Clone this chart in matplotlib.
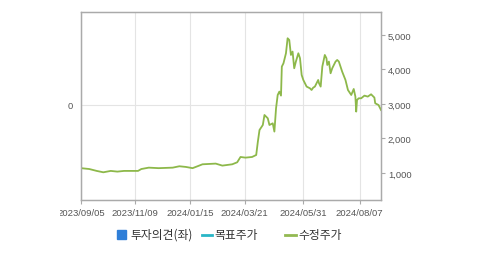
import matplotlib
matplotlib.use("Agg")
import matplotlib.pyplot as plt
import pandas as pd
from matplotlib.lines import Line2D
from matplotlib.patches import Rectangle
from matplotlib.transforms import Bbox, TransformedBbox

plt.rcParams['font.family'] = ['Noto Sans CJK KR', 'DejaVu Sans']

# adjusted price (수정주가)
dates = ["2023-09-05", "2023-09-15", "2023-09-24", "2023-10-02", "2023-10-11", "2023-10-19",
         "2023-10-27", "2023-11-13", "2023-11-17", "2023-11-26", "2023-12-08", "2023-12-25",
         "2024-01-02", "2024-01-10", "2024-01-18", "2024-01-26", "2024-01-30", "2024-02-15",
         "2024-02-23", "2024-03-06", "2024-03-12", "2024-03-16", "2024-03-22", "2024-03-30",
         "2024-04-04", "2024-04-06", "2024-04-08", "2024-04-12", "2024-04-14", "2024-04-18",
         "2024-04-20", "2024-04-24", "2024-04-26", "2024-04-28", "2024-04-30", "2024-05-02",
         "2024-05-04", "2024-05-05", "2024-05-07", "2024-05-10", "2024-05-12", "2024-05-14",
         "2024-05-16", "2024-05-18", "2024-05-20", "2024-05-22", "2024-05-25", "2024-05-27",
         "2024-05-29", "2024-05-31", "2024-06-04", "2024-06-08", "2024-06-10", "2024-06-12",
         "2024-06-14", "2024-06-18", "2024-06-19", "2024-06-21", "2024-06-23", "2024-06-26",
         "2024-06-28", "2024-06-29", "2024-07-01", "2024-07-03", "2024-07-05", "2024-07-09",
         "2024-07-11", "2024-07-13", "2024-07-17", "2024-07-21", "2024-07-24", "2024-07-28",
         "2024-07-31", "2024-08-02", "2024-08-03", "2024-08-04", "2024-08-06", "2024-08-09",
         "2024-08-13", "2024-08-17", "2024-08-21", "2024-08-25", "2024-08-26", "2024-08-30",
         "2024-09-02"]
prices = [1140, 1115, 1060, 1020, 1060, 1040, 1060, 1060, 1115, 1155, 1140, 1155,
          1195, 1175, 1140, 1214, 1252, 1272, 1214, 1252, 1310, 1464, 1445, 1464,
          1522, 1910, 2246, 2391, 2681, 2585, 2391, 2440, 2200, 2875, 3261, 3359,
          3243, 4084, 4180, 4470, 4905, 4855, 4421, 4519, 4035, 4229, 4470, 4325,
          3841, 3696, 3504, 3455, 3406, 3475, 3504, 3696, 3600, 3504, 4084, 4421,
          4325, 4131, 4229, 3890, 4035, 4229, 4276, 4229, 3939, 3696, 3406, 3261,
          3435, 3214, 2780, 3116, 3165, 3165, 3243, 3214, 3281, 3186, 3020, 2971,
          2826]

tick_dates = ["2023-09-05", "2023-11-09", "2024-01-15", "2024-03-21", "2024-05-31", "2024-08-07"]
tick_labels = ["2023/09/05", "2023/11/09", "2024/01/15", "2024/03/21", "2024/05/31", "2024/08/07"]
price_ticks = [1000, 2000, 3000, 4000, 5000]
legend_labels = ["투자의견(좌)", "목표주가", "수정주가"]

W, H = 479, 255
fig = plt.figure(figsize=(W / 100, H / 100), dpi=100)
ax = fig.add_axes([81 / W, 1 - 201 / H, 300 / W, 188.3 / H])
ax2 = ax.twinx()

x = pd.to_datetime(dates)
ax2.plot(x, prices, color="#8db84a", lw=1.3)

ax.set_xlim(pd.Timestamp("2023-09-05"), pd.Timestamp("2024-09-02"))
ax.set_ylim(-1.02, 1.0)
ax.set_yticks([0])
ax.set_yticklabels(["0"])
ax2.set_ylim(217, 5675)
ax2.set_yticks(price_ticks)
ax2.set_yticklabels([f"{v:,}" for v in price_ticks])

ax.set_xticks(pd.to_datetime(tick_dates))
ax.set_xticklabels(tick_labels)

ax.grid(True, color="#e4e4e4", lw=0.8)
ax.set_axisbelow(True)

for a in (ax, ax2):
    for s in a.spines.values():
        s.set_color("#aaaaaa")
        s.set_linewidth(0.9)
    a.tick_params(colors="#aaaaaa", labelcolor="#555555", length=3, width=0.8,
                  labelsize=6.8, pad=2)
ax.tick_params(axis="y", length=0, pad=6)
ax.tick_params(axis="x", pad=3)
for lbl in ax.get_xticklabels() + ax.get_yticklabels() + ax2.get_yticklabels():
    lbl.set_family(["Liberation Sans", "DejaVu Sans"])

# the first date label is clipped at the canvas edge in the original
clip = TransformedBbox(Bbox([[60 / W, 0], [1, 1]]), fig.transFigure)
first = ax.get_xticklabels()[0]
first.set_clip_box(clip)
first.set_clip_on(True)

# legend, placed by hand like the original
ly = 1 - 235.5 / H
fig.add_artist(Rectangle((117 / W, 1 - 240 / H), 9 / W, 9 / H,
                         transform=fig.transFigure, color="#2f7fd8"))
fig.add_artist(Line2D([202 / W, 212 / W], [ly, ly], transform=fig.transFigure,
                      color="#29b6c6", lw=2))
fig.add_artist(Line2D([285 / W, 296 / W], [ly, ly], transform=fig.transFigure,
                      color="#93b952", lw=2))
for xpos, txt in zip([130, 214, 298], legend_labels):
    fig.text(xpos / W, ly, txt, fontsize=8.5, color="#333333", va="center", ha="left")

fig.savefig("out.png", dpi=100)
